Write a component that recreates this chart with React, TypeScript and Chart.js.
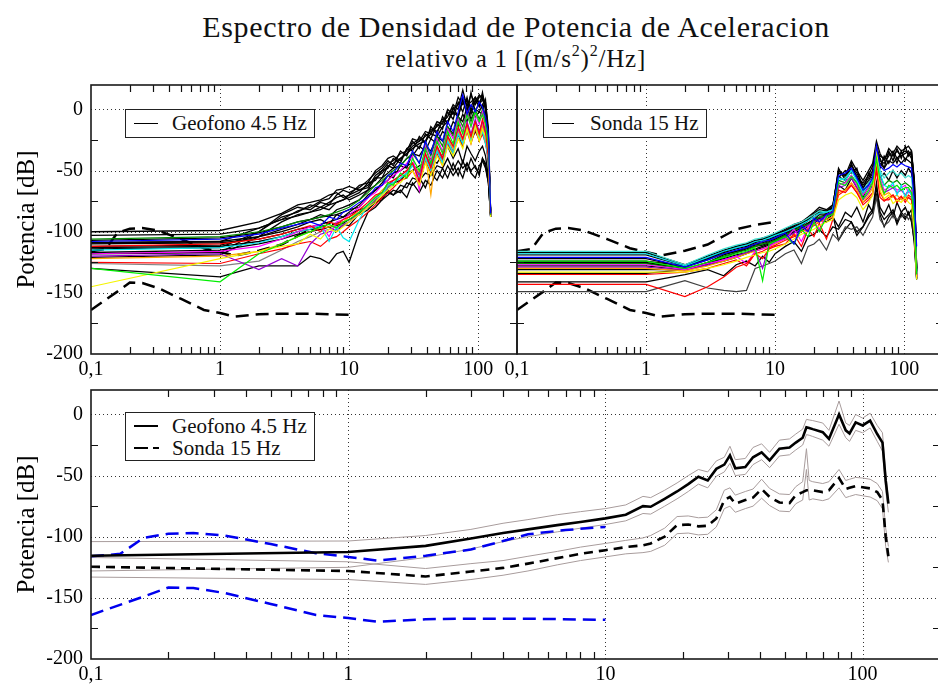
import React, { useEffect, useRef } from 'react';
import { Chart, registerables } from 'chart.js';

Chart.register(...registerables);

const SERIF = "'Liberation Serif', 'DejaVu Serif', 'Times New Roman', serif";

// ---------- axes ----------
const X_MIN = 0.1;
const X_MAX = 200;
const Y_MIN = -200;
const Y_MAX = 20;
const X_TICKS = [0.1, 1, 10, 100];
const X_TICK_LABELS = ['0,1', '1', '10', '100'];
const Y_TICKS = [-200, -150, -100, -50, 0];
const Y_MINOR = [-175, -125, -75, -25];
const MINOR_X_FACTORS = [2, 3, 4, 5, 6, 7, 8, 9];

// ---------- Peterson noise models ----------
const NHNM_F = [0.1, 0.13, 0.16, 0.2, 0.25, 0.33, 0.5, 0.75, 1, 1.3, 2, 3, 4, 5, 7, 10];
const NHNM_DB = [-116, -114, -101, -97.5, -97, -99, -106, -113.5, -116.5, -119.5, -115.5, -110.5, -103.5, -98, -94.5, -92];
const NLNM_F = [0.1, 0.16, 0.2, 0.25, 0.33, 0.5, 0.75, 1, 1.3, 2, 3, 5, 10];
const NLNM_DB = [-164, -149, -141.5, -142, -146, -155, -164, -166.5, -169.5, -167.5, -167, -167, -168];

// ---------- Geofono 4.5 Hz individual spectra ----------
const F_GEO = [0.1, 1, 2, 3, 4, 5, 6, 7, 8, 9, 10, 12, 14, 16, 18, 20, 22, 25, 28, 31, 35, 39, 43, 48, 53, 58, 64, 70, 76, 82, 88, 95, 102, 108, 114, 120, 125];

const GEO_1 = [-100, -99, -92, -85, -78, -76, -74, -70, -68, -72, -70,
  -62, -60, -50, -46, -40, -38, -42, -32,
  -28, -24, -26, -16, -18, -10, -6, 4, 0, 16, 2, 12, 4, 10, 12, 4, -20, -85];
const GEO_2 = [-103, -102, -97, -90, -83, -80, -75, -73, -66, -65, -63,
  -66, -64, -54, -50, -44, -42, -36, -34,
  -24, -26, -18, -20, -10, -12, 0, -4, 10, 4, 8, 0, 6, 12, 8, 2, -30, -86];
const GEO_3 = [-113, -112, -108, -104, -100, -98, -98, -96, -100, -94, -95,
  -85, -80, -74, -70, -64, -60, -58, -52,
  -50, -46, -44, -40, -44, -36, -30, -40, -32, -44, -30, -36, -42, -34, -30, -38, -55, -88];
const GEO_4 = [-107, -105, -101, -96, -92, -90, -88, -87, -86, -88, -84,
  -78, -70, -66, -60, -54, -56, -46, -48,
  -36, -38, -30, -34, -22, -26, -14, -20, -6, -10, 2, -8, 0, -2, 4, -6, -25, -84];
const GEO_5 = [-112, -110, -106, -102, -98, -95, -100, -92, -94, -90, -88,
  -82, -76, -70, -68, -60, -58, -54, -50,
  -44, -58, -36, -48, -30, -40, -22, -30, -14, -24, -12, -22, -10, -20, -8, -18, -40, -86];
const GEO_6 = [-130, -141, -118, -110, -104, -100, -96, -94, -97, -92, -90,
  -84, -78, -72, -68, -60, -62, -52, -56,
  -40, -50, -32, -44, -26, -36, -18, -28, -10, -20, -4, -14, -2, -10, -4, -12, -30, -86];
const GEO_7 = [-108, -106, -102, -97, -94, -92, -95, -88, -90, -84, -82,
  -76, -72, -64, -62, -54, -52, -44, -46,
  -34, -44, -26, -36, -18, -26, -10, -18, -2, 12, -4, 4, -2, 6, 2, -6, -20, -85];
const GEO_8 = [-145, -122, -116, -112, -110, -102, -106, -98, -100, -96, -92,
  -86, -80, -76, -70, -66, -62, -60, -54,
  -50, -62, -44, -54, -38, -46, -30, -38, -24, -32, -16, -28, -14, -26, -16, -22, -35, -88];
const GEO_9 = [-118, -116, -112, -106, -100, -96, -94, -104, -92, -90, -86,
  -80, -72, -68, -62, -58, -54, -50, -44,
  -38, -66, -30, -42, -24, -34, -16, -24, -8, -18, -2, -14, -4, -12, -2, -14, -30, -86];
const GEO_10 = [-115, -113, -109, -104, -100, -98, -95, -108, -96, -105, -108,
  -90, -78, -72, -70, -62, -60, -56, -52,
  -46, -56, -40, -50, -34, -44, -26, -36, -20, -28, -16, -26, -14, -24, -18, -28, -40, -88];
const GEO_11 = [-120, -118, -131, -122, -128, -110, -102, -100, -98, -95, -92,
  -84, -78, -72, -68, -62, -58, -54, -50,
  -44, -54, -36, -46, -30, -40, -22, -30, -16, -24, -10, -20, -8, -18, -10, -20, -35, -87];
const GEO_12 = [-122, -120, -116, -110, -104, -100, -97, -96, -94, -92, -88,
  -84, -78, -72, -66, -62, -58, -54, -50,
  -44, -52, -38, -70, -30, -40, -24, -32, -18, -26, -12, -24, -12, -22, -12, -22, -38, -87];
const GEO_13 = [-106, -104, -100, -96, -92, -90, -88, -86, -84, -82, -80,
  -74, -68, -62, -58, -54, -50, -46, -40,
  -36, -44, -28, -38, -22, -30, -14, -22, -6, -14, -2, -10, 0, -8, 0, -10, -28, -85];
const GEO_14 = [-130, -137, -128, -128, -128, -120, -122, -126, -118, -116, -125,
  -100, -84, -80, -74, -66, -70, -62, -64,
  -56, -58, -52, -54, -46, -48, -40, -50, -42, -48, -44, -50, -46, -54, -40, -46, -60, -88];
const GEO_15 = [-125, -126, -118, -114, -110, -108, -112, -106, -104, -100, -96,
  -90, -84, -78, -72, -68, -64, -58, -56,
  -50, -60, -42, -52, -36, -46, -28, -36, -24, -30, -18, -28, -16, -26, -20, -28, -40, -88];
const GEO_16 = [-126, -128, -124, -115, -108, -104, -100, -98, -96, -94, -92,
  -86, -80, -74, -70, -64, -60, -56, -52,
  -46, -54, -38, -48, -32, -42, -24, -34, -18, -28, -14, -24, -12, -22, -14, -24, -38, -87];
const GEO_17 = [-114, -113, -100, -88, -84, -78, -80, -76, -72, -70, -74,
  -70, -66, -56, -56, -46, -48, -40, -36,
  -32, -28, -26, -20, -22, -14, -10, -2, -6, 8, 4, 6, 10, 6, 10, 0, -25, -86];
const GEO_18 = [-110, -109, -106, -102, -98, -96, -94, -92, -90, -88, -86,
  -82, -80, -76, -72, -68, -70, -66, -72,
  -60, -68, -58, -62, -50, -56, -46, -54, -48, -56, -44, -52, -56, -46, -42, -48, -60, -88];
const GEO_19 = [-118, -117, -100, -86, -80, -82, -76, -78, -70, -66, -68,
  -64, -58, -52, -48, -42, -46, -34, -38,
  -26, -32, -20, -24, -12, -16, -2, -8, 6, -2, 10, -4, 8, 2, 14, 0, -30, -86];
const GEO_20 = [-121, -119, -104, -92, -86, -84, -82, -78, -76, -74, -72,
  -68, -60, -58, -50, -48, -40, -44, -32,
  -34, -22, -28, -14, -20, -6, -12, 2, -6, 8, -4, 14, -2, 6, 0, 8, -22, -85];
const GEO_21 = [-109, -108, -104, -100, -96, -92, -90, -94, -86, -84, -82,
  -80, -72, -66, -62, -58, -52, -50, -46,
  -44, -52, -38, -46, -34, -40, -28, -36, -20, -30, -16, -26, -18, -24, -12, -22, -45, -87];
const GEO_22 = [-117, -115, -110, -106, -102, -100, -98, -96, -95, -93, -90,
  -86, -82, -76, -74, -70, -66, -68, -60,
  -62, -56, -64, -52, -58, -48, -56, -44, -54, -42, -50, -40, -48, -52, -40, -44, -58, -88];
const GEO_23 = [-109, -108, -97, -90, -87, -84, -80, -82, -76, -74, -70,
  -66, -62, -56, -52, -46, -44, -40, -36,
  -30, -26, -22, -18, -14, -8, -10, 0, 4, 10, 6, 2, 10, 4, 8, 6, -15, -85];
const GEO_24 = [-112, -111, -104, -98, -94, -90, -86, -88, -82, -80, -78,
  -74, -66, -62, -56, -52, -48, -46, -40,
  -38, -30, -34, -24, -28, -18, -22, -10, -14, -4, -10, 0, -6, -2, -4, -10, -30, -86];

// ---------- Sonda 15 Hz individual spectra ----------
const F_SON = [0.1, 1, 2, 3, 4, 5, 6, 7, 8, 9, 10, 12, 14, 16, 18, 20, 22, 25, 28, 31, 35, 39, 43, 48, 53, 57, 61, 65, 70, 76, 82, 88, 95, 102, 108, 114, 120, 125];

const SON_1 = [-117, -117, -127, -120, -115, -112, -110, -107, -106, -104, -102,
  -98, -94, -92, -88, -84, -80, -82, -78,
  -52, -54, -46, -52, -62, -56, -50, -28, -42, -44, -38, -34, -40, -36, -34, -36, -35, -60, -130];
const SON_2 = [-119, -119, -128, -122, -117, -114, -112, -109, -107, -106, -104,
  -100, -96, -94, -90, -86, -84, -84, -80,
  -50, -56, -48, -54, -64, -58, -52, -34, -38, -40, -36, -38, -34, -38, -36, -34, -38, -58, -132];
const SON_3 = [-121, -121, -129, -123, -118, -115, -113, -110, -108, -107, -105,
  -101, -110, -95, -100, -89, -92, -86, -84,
  -54, -52, -48, -56, -66, -62, -56, -30, -46, -50, -48, -45, -47, -44, -46, -47, -48, -75, -112];
const SON_4 = [-124, -124, -130, -125, -121, -118, -116, -113, -140, -110, -108,
  -104, -110, -98, -104, -92, -100, -88, -86,
  -60, -62, -55, -60, -73, -66, -60, -40, -58, -69, -62, -64, -62, -66, -64, -64, -68, -90, -135];
const SON_5 = [-143, -143, -153, -145, -137, -129, -126, -118, -122, -114, -112,
  -110, -102, -112, -98, -104, -93, -106, -90,
  -66, -68, -62, -68, -78, -74, -70, -50, -72, -75, -72, -70, -74, -71, -76, -72, -74, -95, -136];
const SON_6 = [-133, -133, -133, -130, -127, -124, -121, -119, -117, -116, -114,
  -110, -106, -102, -100, -98, -95, -92, -90,
  -74, -70, -68, -72, -82, -76, -70, -30, -66, -73, -70, -77, -74, -76, -72, -76, -78, -100, -139];
const SON_7 = [-149, -149, -140, -146, -148, -149, -148, -130, -128, -126, -124,
  -118, -115, -126, -112, -110, -106, -115, -102,
  -107, -96, -98, -96, -103, -94, -88, -72, -90, -95, -92, -86, -90, -88, -85, -90, -86, -105, -138];
const SON_8 = [-141, -141, -135, -131, -136, -127, -124, -128, -120, -125, -118,
  -112, -108, -116, -104, -102, -98, -104, -96,
  -98, -90, -92, -100, -96, -86, -82, -60, -84, -90, -86, -82, -92, -84, -88, -85, -90, -110, -139];
const SON_9 = [-118, -118, -128, -121, -116, -113, -111, -108, -107, -105, -103,
  -100, -97, -94, -91, -88, -85, -84, -82,
  -56, -58, -50, -58, -68, -62, -58, -38, -52, -62, -64, -60, -70, -62, -72, -66, -70, -88, -134];
const SON_10 = [-127, -127, -131, -126, -123, -120, -126, -116, -114, -112, -109,
  -106, -98, -108, -96, -92, -98, -86, -84,
  -62, -60, -54, -62, -70, -64, -56, -36, -56, -66, -64, -62, -66, -64, -62, -68, -66, -95, -136];
const SON_11 = [-130, -130, -132, -128, -124, -121, -118, -116, -114, -112, -110,
  -106, -103, -100, -97, -94, -92, -90, -88,
  -68, -66, -60, -66, -76, -70, -64, -42, -62, -70, -68, -72, -70, -74, -70, -72, -74, -96, -137];
const SON_12 = [-129, -129, -132, -127, -123, -120, -117, -115, -130, -111, -109,
  -105, -101, -98, -95, -92, -90, -88, -86,
  -64, -62, -56, -64, -74, -68, -62, -40, -60, -68, -66, -64, -68, -66, -70, -66, -70, -92, -136];
const SON_13 = [-122, -122, -129, -123, -118, -116, -113, -111, -110, -108, -106,
  -102, -98, -96, -93, -90, -86, -87, -83,
  -55, -58, -50, -56, -68, -60, -55, -36, -44, -48, -42, -44, -40, -44, -40, -42, -44, -65, -133];
const SON_14 = [-126, -126, -131, -125, -120, -117, -115, -112, -110, -109, -107,
  -103, -99, -96, -94, -91, -88, -87, -85,
  -58, -60, -54, -60, -70, -64, -58, -38, -54, -62, -58, -60, -58, -62, -60, -62, -64, -85, -134];
const SON_15 = [-135, -135, -133, -130, -126, -123, -128, -118, -116, -113, -111,
  -107, -104, -100, -98, -95, -92, -90, -88,
  -70, -66, -62, -68, -76, -72, -68, -46, -68, -74, -74, -70, -76, -72, -74, -70, -72, -94, -137];
const SON_16 = [-116, -116, -127, -119, -114, -111, -109, -106, -105, -103, -101,
  -97, -94, -92, -89, -86, -83, -84, -82,
  -58, -56, -50, -58, -66, -60, -56, -36, -50, -56, -52, -50, -54, -52, -56, -54, -56, -80, -132];
const SON_17 = [-131, -131, -131, -126, -122, -119, -117, -114, -112, -110, -108,
  -104, -100, -97, -94, -92, -89, -90, -86,
  -107, -98, -92, -103, -96, -88, -84, -70, -86, -96, -88, -84, -94, -86, -90, -84, -92, -108, -139];
const SON_18 = [-126, -126, -129, -122, -116, -113, -111, -108, -106, -105, -103,
  -99, -96, -93, -90, -86, -83, -85, -80,
  -48, -58, -44, -56, -60, -54, -46, -32, -40, -48, -34, -42, -32, -40, -30, -38, -34, -62, -131];
const SON_19 = [-134, -134, -131, -125, -119, -116, -113, -110, -109, -107, -105,
  -101, -97, -95, -91, -88, -85, -86, -81,
  -56, -50, -52, -48, -66, -52, -58, -36, -48, -38, -44, -36, -44, -34, -42, -36, -40, -64, -132];
const SON_20 = [-125, -125, -130, -126, -121, -117, -114, -112, -111, -109, -107,
  -103, -100, -97, -93, -90, -88, -88, -84,
  -62, -66, -56, -64, -72, -62, -64, -44, -56, -52, -58, -50, -56, -50, -54, -48, -52, -72, -135];
const SON_21 = [-128, -128, -131, -127, -124, -121, -118, -115, -113, -111, -109,
  -105, -101, -99, -96, -93, -90, -92, -88,
  -96, -84, -88, -80, -92, -78, -84, -64, -80, -86, -78, -88, -76, -84, -80, -86, -82, -100, -138];
const SON_22 = [-124, -124, -128, -121, -116, -112, -110, -108, -105, -104, -102,
  -99, -95, -92, -90, -85, -82, -83, -79,
  -50, -54, -42, -50, -58, -50, -44, -26, -36, -42, -32, -36, -30, -34, -32, -30, -34, -58, -130];

// ---------- mean spectra (bottom panel) ----------
const F_MEAN = [0.1, 1, 2, 3, 4, 5, 6.5, 8, 10, 12, 14, 15, 17, 19, 21, 23, 25, 27, 29, 30.5, 32, 35, 37.5, 40.5, 43.5, 47.5, 52, 55, 58.5, 60.5, 62, 64, 70, 74, 81, 86, 89, 94, 100, 107, 114, 119.5, 123, 126];
const GEO_MEAN = [-115.5, -112.5, -107.5, -101.5, -97, -94, -90.5, -88, -85, -82, -75, -75.5, -69, -63, -57, -51, -54, -44.5, -41, -33.5, -44, -43, -35, -31, -37.5, -28, -27, -23, -19, -10.5, -11, -12, -14.5, -20, 0, -13, -15.5, -6.5, -9, -5, -16, -23, -54, -73];
const GEO_UP = [-104, -103.5, -99, -94, -89, -86, -82, -79.5, -77, -74, -67, -68, -62, -56, -50, -45, -47, -38, -35, -26, -37, -36, -27, -24, -31, -21, -20, -16, -12, -4, -4.5, -5, -7, -13, 11, -7, -9, 0, -3, 1, -9, -15, -48, -70];
const GEO_LO = [-128, -125, -117, -110, -104, -100, -96, -93, -90, -87, -81, -81.5, -75, -69, -63, -57, -60, -50.5, -47, -40, -50, -49, -41, -37, -43.5, -34, -33, -29, -25, -16.5, -17, -18, -21, -26, -8, -19, -22, -13, -15, -11, -22, -30, -62, -80];
const SON_MEAN = [-124.5, -128, -132.5, -128.5, -125.5, -122, -117.5, -114, -111, -108.5, -107, -105.5, -100, -90.5, -90, -91.5, -91, -85, -70, -67.5, -73, -70, -68, -61, -67.5, -72, -72.5, -66, -63.5, -62, -62, -62, -63.5, -62, -52, -61, -60, -58.5, -59.5, -60.5, -63.5, -70, -100, -116];
const SON_UP = [-117, -120.5, -126, -122, -119.5, -116, -112, -108.5, -105.5, -103, -101, -99, -93, -83.5, -83, -84.5, -84, -78, -62, -60, -66, -63, -61, -53, -60.5, -65, -65.5, -59, -55, -28, -54, -55, -56.5, -55, -45, -54, -53, -51.5, -52, -53, -56.5, -63, -93, -108];
const SON_LO = [-133, -135, -139, -135, -131.5, -128, -123, -119.5, -116.5, -114, -113, -112, -107, -97.5, -97, -98.5, -98, -92, -77, -75, -80, -77, -75, -68.5, -74.5, -79, -79.5, -73, -70, -45, -70, -69, -70.5, -69, -60, -68, -67, -65.5, -66.5, -67.5, -70.5, -77, -108, -121];

// ---------- styles ----------
const C_BLACK = '#000000';
const C_RED = '#ff0000';
const C_GREEN = '#00ee00';
const C_BLUE = '#0000ff';
const C_YELLOW = '#f4f400';
const C_MAGENTA = '#ff00ff';
const C_CYAN = '#00e8f0';
const C_VIOLET = '#9400d3';
const C_ORANGE = '#ffa500';
const C_DKGREEN = '#008b00';
const C_GRAY = '#808080';
const C_DKGRAY = '#404040';
const C_TURQ = '#40e0d0';
const C_BAND = '#a89c9c';
const C_MODEL_BLUE = '#0000ee';

function line(fs: number[], vs: number[], color: string, width = 1.2, dash: number[] = []) {
  return {
    data: fs.map((f, i) => ({ x: f, y: vs[i] })),
    borderColor: color,
    backgroundColor: color,
    borderWidth: width,
    borderDash: dash,
    pointRadius: 0,
    fill: false,
    tension: 0,
  };
}

const BLACK_W = 1.3;

function geoDatasets() {
  return [
    line(F_GEO, GEO_7, C_BLUE),
    line(F_GEO, GEO_6, C_GREEN),
    line(F_GEO, GEO_5, C_RED),
    line(F_GEO, GEO_8, C_YELLOW),
    line(F_GEO, GEO_9, C_MAGENTA),
    line(F_GEO, GEO_10, C_CYAN),
    line(F_GEO, GEO_11, C_VIOLET),
    line(F_GEO, GEO_12, C_ORANGE),
    line(F_GEO, GEO_13, C_DKGREEN),
    line(F_GEO, GEO_15, C_RED),
    line(F_GEO, GEO_16, C_GRAY),
    line(F_GEO, GEO_1, C_BLACK, BLACK_W),
    line(F_GEO, GEO_2, C_BLACK, BLACK_W),
    line(F_GEO, GEO_3, C_BLACK, BLACK_W),
    line(F_GEO, GEO_4, C_BLACK, BLACK_W),
    line(F_GEO, GEO_14, C_BLACK, BLACK_W),
    line(F_GEO, GEO_17, C_BLACK, BLACK_W),
    line(F_GEO, GEO_18, C_BLACK, BLACK_W),
    line(F_GEO, GEO_19, C_BLACK, BLACK_W),
    line(F_GEO, GEO_20, C_BLACK, BLACK_W),
    line(F_GEO, GEO_21, C_BLACK, BLACK_W),
    line(F_GEO, GEO_22, C_BLACK, BLACK_W),
    line(F_GEO, GEO_23, C_BLACK, BLACK_W),
    line(F_GEO, GEO_24, C_BLACK, BLACK_W),
    line(NHNM_F, NHNM_DB, C_BLACK, 2.5, [13, 7]),
    line(NLNM_F, NLNM_DB, C_BLACK, 2.5, [13, 7]),
  ];
}

function sonDatasets() {
  return [
    line(F_SON, SON_3, C_BLUE),
    line(F_SON, SON_4, C_GREEN),
    line(F_SON, SON_6, C_YELLOW),
    line(F_SON, SON_5, C_RED),
    line(F_SON, SON_9, C_CYAN),
    line(F_SON, SON_10, C_MAGENTA),
    line(F_SON, SON_11, C_ORANGE),
    line(F_SON, SON_12, C_VIOLET),
    line(F_SON, SON_14, C_DKGREEN),
    line(F_SON, SON_15, C_RED),
    line(F_SON, SON_16, C_TURQ),
    line(F_SON, SON_7, C_DKGRAY),
    line(F_SON, SON_1, C_BLACK, BLACK_W),
    line(F_SON, SON_2, C_BLACK, BLACK_W),
    line(F_SON, SON_8, C_BLACK, BLACK_W),
    line(F_SON, SON_13, C_BLACK, BLACK_W),
    line(F_SON, SON_17, C_BLACK, BLACK_W),
    line(F_SON, SON_18, C_BLACK, BLACK_W),
    line(F_SON, SON_19, C_BLACK, BLACK_W),
    line(F_SON, SON_20, C_BLACK, BLACK_W),
    line(F_SON, SON_21, C_BLACK, BLACK_W),
    line(F_SON, SON_22, C_BLACK, BLACK_W),
    line(NHNM_F, NHNM_DB, C_BLACK, 2.5, [13, 7]),
    line(NLNM_F, NLNM_DB, C_BLACK, 2.5, [13, 7]),
  ];
}

function meanDatasets() {
  return [
    line(F_MEAN, GEO_MEAN, C_BLACK, 2.6),
    line(F_MEAN, SON_MEAN, C_BLACK, 2.6, [9, 6]),
    line(NHNM_F, NHNM_DB, C_MODEL_BLUE, 2.5, [13, 7]),
    line(NLNM_F, NLNM_DB, C_MODEL_BLUE, 2.5, [13, 7]),
    line(F_MEAN, GEO_UP, C_BAND, 1),
    line(F_MEAN, GEO_LO, C_BAND, 1),
    line(F_MEAN, SON_UP, C_BAND, 1),
    line(F_MEAN, SON_LO, C_BAND, 1),
  ];
}

const framePlugin = {
  id: 'frame',
  beforeDatasetsDraw(chart: any) {
    const { ctx, chartArea: a, scales } = chart;
    const x = scales.x;
    const y = scales.y;
    ctx.save();
    ctx.beginPath();
    ctx.rect(a.left, a.top, a.right - a.left, a.bottom - a.top);
    ctx.clip();
    ctx.strokeStyle = '#333333';
    ctx.lineWidth = 1;
    ctx.setLineDash([1, 3]);
    ctx.beginPath();
    for (const v of X_TICKS) {
      const px = Math.round(x.getPixelForValue(v)) + 0.5;
      if (px < a.left + 2 || px > a.right - 2) continue;
      ctx.moveTo(px, a.top);
      ctx.lineTo(px, a.bottom);
    }
    for (const v of Y_TICKS) {
      const py = Math.round(y.getPixelForValue(v)) + 0.5;
      if (py < a.top + 2 || py > a.bottom - 2) continue;
      ctx.moveTo(a.left, py);
      ctx.lineTo(a.right, py);
    }
    ctx.stroke();
    ctx.restore();
  },
  afterDatasetsDraw(chart: any) {
    const { ctx, chartArea: a, scales } = chart;
    const x = scales.x;
    const y = scales.y;
    const T = 7;
    ctx.save();
    ctx.setLineDash([]);
    ctx.strokeStyle = '#111111';
    ctx.lineWidth = 1.2;
    ctx.beginPath();
    for (const base of X_TICKS) {
      for (const k of MINOR_X_FACTORS) {
        const v = base * k;
        if (v >= X_MAX) continue;
        const px = Math.round(x.getPixelForValue(v)) + 0.5;
        ctx.moveTo(px, a.top);
        ctx.lineTo(px, a.top + T);
        ctx.moveTo(px, a.bottom);
        ctx.lineTo(px, a.bottom - T);
      }
    }
    for (const v of Y_MINOR) {
      const py = Math.round(y.getPixelForValue(v)) + 0.5;
      ctx.moveTo(a.left, py);
      ctx.lineTo(a.left + T, py);
      ctx.moveTo(a.right, py);
      ctx.lineTo(a.right - T, py);
    }
    ctx.stroke();
    ctx.lineWidth = 1.6;
    ctx.strokeStyle = '#1a1a1a';
    ctx.strokeRect(a.left, a.top, a.right - a.left, a.bottom - a.top);
    ctx.restore();
  },
};

type PanelProps = {
  left: number;
  top: number;
  width: number;
  height: number;
  padding: { left: number; right: number; top: number; bottom: number };
  showY: boolean;
  xAxisHeight: number;
  makeData: () => any[];
};

function Panel({ left, top, width, height, padding, showY, xAxisHeight, makeData }: PanelProps) {
  const ref = useRef<HTMLCanvasElement | null>(null);
  useEffect(() => {
    if (!ref.current) return;
    const chart = new Chart(ref.current, {
      type: 'line',
      data: { datasets: makeData() },
      options: {
        animation: false,
        responsive: false,
        maintainAspectRatio: false,
        devicePixelRatio: 1,
        events: [],
        layout: { padding },
        plugins: { legend: { display: false }, tooltip: { enabled: false }, title: { display: false } },
        scales: {
          x: {
            type: 'logarithmic',
            min: X_MIN,
            max: X_MAX,
            bounds: 'data',
            grid: { display: false, drawTicks: false },
            border: { display: false },
            afterBuildTicks: (s: any) => {
              s.ticks = X_TICKS.map((v) => ({ value: v }));
            },
            afterFit: (s: any) => {
              s.height = xAxisHeight;
            },
            ticks: {
              autoSkip: false,
              maxRotation: 0,
              minRotation: 0,
              padding: 4,
              color: '#000',
              font: { family: SERIF, size: 20 },
              callback: (v: any) => {
                const i = X_TICKS.findIndex((t) => Math.abs(t - Number(v)) < 1e-9);
                return i >= 0 ? X_TICK_LABELS[i] : '';
              },
            },
          },
          y: {
            type: 'linear',
            min: Y_MIN,
            max: Y_MAX,
            display: showY,
            grid: { display: false, drawTicks: false },
            border: { display: false },
            afterBuildTicks: (s: any) => {
              s.ticks = Y_TICKS.map((v) => ({ value: v }));
            },
            afterFit: showY
              ? (s: any) => {
                  s.width = 91;
                }
              : undefined,
            ticks: {
              padding: 8,
              color: '#000',
              font: { family: SERIF, size: 20 },
              callback: (v: any) => String(v),
            },
            title: {
              display: showY,
              text: 'Potencia [dB]',
              color: '#000',
              font: { family: SERIF, size: 25 },
              padding: { top: 12, bottom: 0 },
            },
          },
        },
      } as any,
      plugins: [framePlugin],
    });
    return () => chart.destroy();
  }, []);
  return (
    <canvas
      ref={ref}
      width={width}
      height={height}
      style={{ position: 'absolute', left, top, width, height, display: 'block' }}
    />
  );
}

const legendBox: React.CSSProperties = {
  position: 'absolute',
  boxSizing: 'border-box',
  border: '1px solid #222',
  background: '#fff',
  zIndex: 5,
};
const legendText: React.CSSProperties = {
  position: 'absolute',
  fontFamily: SERIF,
  fontSize: 21,
  color: '#111',
  whiteSpace: 'nowrap',
};
const supStyle: React.CSSProperties = {
  fontSize: 16,
  position: 'relative',
  top: -11,
  verticalAlign: 'baseline',
  lineHeight: 0,
};

export default function App() {
  return (
    <div
      style={{
        position: 'absolute',
        left: 0,
        top: 0,
        width: 938,
        height: 684,
        overflow: 'hidden',
        background: '#fff',
      }}
    >
      <div
        style={{
          position: 'absolute',
          left: 116,
          top: 12,
          width: 800,
          textAlign: 'center',
          fontFamily: SERIF,
          fontSize: 30,
          letterSpacing: 0.7,
          lineHeight: '30px',
          color: '#111',
          whiteSpace: 'nowrap',
        }}
      >
        Espectro de Densidad de Potencia de Aceleracion
      </div>
      <div
        style={{
          position: 'absolute',
          left: 116,
          top: 46,
          width: 800,
          textAlign: 'center',
          fontFamily: SERIF,
          fontSize: 25,
          letterSpacing: 0.8,
          lineHeight: '25px',
          color: '#111',
          whiteSpace: 'nowrap',
        }}
      >
        relativo a 1 [(m/s<sup style={supStyle}>2</sup>)<sup style={supStyle}>2</sup>/Hz]
      </div>

      <Panel
        left={0}
        top={65}
        width={522}
        height={321}
        padding={{ left: 0, right: 5, top: 20, bottom: 0 }}
        showY={true}
        xAxisHeight={32}
        makeData={geoDatasets}
      />
      <Panel
        left={497}
        top={75}
        width={450}
        height={311}
        padding={{ left: 20, right: 4, top: 10, bottom: 0 }}
        showY={false}
        xAxisHeight={32}
        makeData={sonDatasets}
      />
      <Panel
        left={0}
        top={370}
        width={945}
        height={314}
        padding={{ left: 0, right: 5, top: 20, bottom: 0 }}
        showY={true}
        xAxisHeight={25}
        makeData={meanDatasets}
      />

      {/* legend top-left */}
      <div style={{ ...legendBox, left: 125, top: 109, width: 190, height: 29 }}>
        <div style={{ position: 'absolute', left: 8, top: 13, width: 24, height: 0, borderTop: '1.5px solid #000' }} />
        <div style={{ ...legendText, left: 46, top: 0, lineHeight: '27px' }}>Geofono 4.5 Hz</div>
      </div>
      {/* legend top-right */}
      <div style={{ ...legendBox, left: 543, top: 109, width: 164, height: 29 }}>
        <div style={{ position: 'absolute', left: 8, top: 13, width: 22, height: 0, borderTop: '1.5px solid #000' }} />
        <div style={{ ...legendText, left: 46, top: 0, lineHeight: '27px' }}>Sonda 15 Hz</div>
      </div>
      {/* legend bottom */}
      <div style={{ ...legendBox, left: 125, top: 412, width: 190, height: 49 }}>
        <div style={{ position: 'absolute', left: 8, top: 12, width: 24, height: 0, borderTop: '2.5px solid #000' }} />
        <div style={{ ...legendText, left: 46, top: 1, lineHeight: '24px' }}>Geofono 4.5 Hz</div>
        <div style={{ position: 'absolute', left: 8, top: 34, width: 14, height: 0, borderTop: '2.5px solid #000' }} />
        <div style={{ position: 'absolute', left: 27, top: 34, width: 6, height: 0, borderTop: '2.5px solid #000' }} />
        <div style={{ ...legendText, left: 46, top: 23, lineHeight: '24px' }}>Sonda 15 Hz</div>
      </div>
    </div>
  );
}
